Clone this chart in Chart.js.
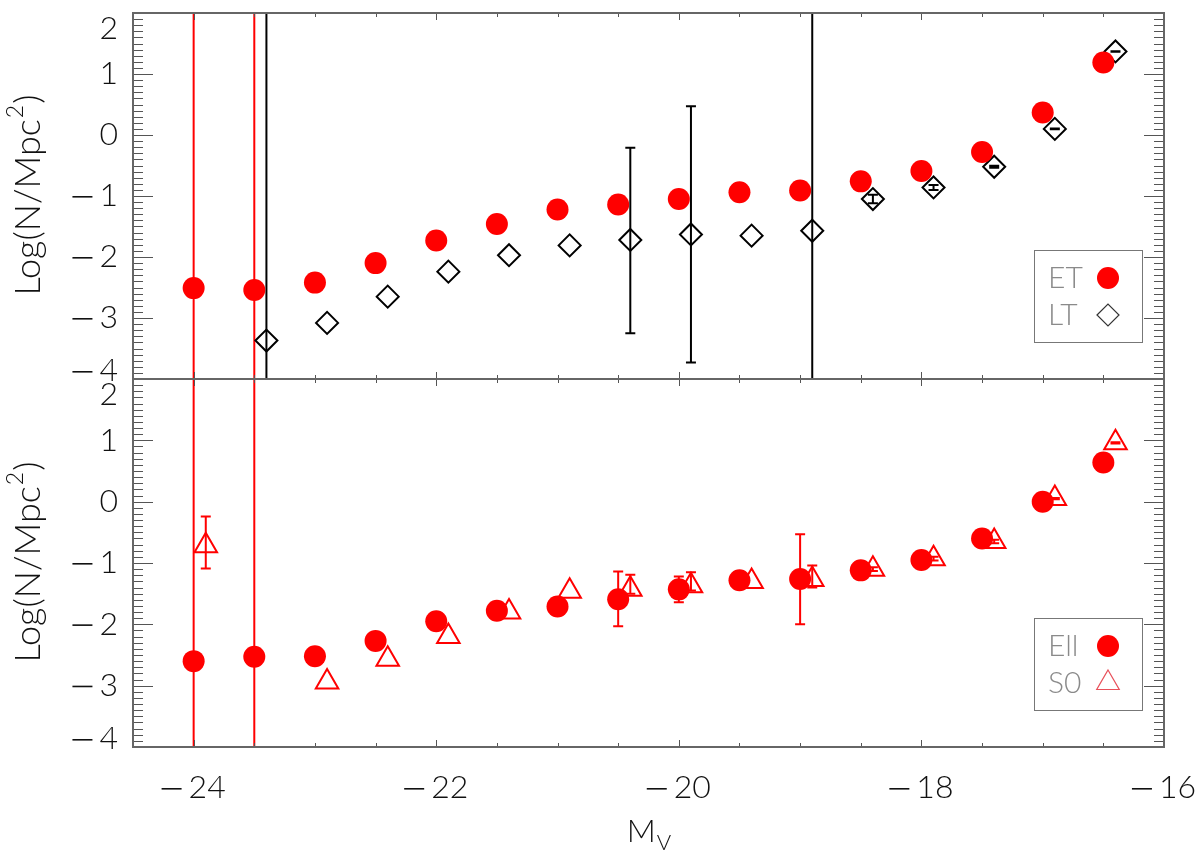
<!DOCTYPE html>
<html>
<head>
<meta charset="utf-8">
<script src="https://cdn.jsdelivr.net/npm/chart.js@4.4.0/dist/chart.umd.min.js"></script>
<style>
  body { margin: 0; background: #fff; width: 1200px; height: 858px; position: relative; overflow: hidden; }
  canvas { position: absolute; left: 0; }
  #topChart { top: 0; }
  #botChart { top: 360px; }
</style>
</head>
<body>
<canvas id="topChart" width="1200" height="400"></canvas>
<canvas id="botChart" width="1200" height="498"></canvas>
<script>
// magnitude bins
const magE = [-24, -23.5, -23, -22.5, -22, -21.5, -21, -20.5, -20, -19.5, -19, -18.5, -18, -17.5, -17, -16.5];
const magL = [-23.4, -22.9, -22.4, -21.9, -21.4, -20.9, -20.4, -19.9, -19.4, -18.9, -18.4, -17.9, -17.4, -16.9, -16.4];
const magS0 = [-23.9, -22.9, -22.4, -21.9, -21.4, -20.9, -20.4, -19.9, -19.4, -18.9, -18.4, -17.9, -17.4, -16.9, -16.4];

// top panel: ET / LT
const etVals = [-2.51, -2.54, -2.42, -2.10, -1.73, -1.46, -1.22, -1.14, -1.05, -0.94, -0.91, -0.76, -0.59, -0.28, 0.37, 1.19];
const etLo = [-9, -9, null, null, null, null, null, null, null, null, null, null, null, null, null, null];
const etHi = [9, 9, null, null, null, null, null, null, null, null, null, null, null, null, null, null];

const ltVals = [-3.37, -3.08, -2.65, -2.24, -1.97, -1.81, -1.72, -1.63, -1.65, -1.57, -1.05, -0.86, -0.52, 0.10, 1.37];
const ltLo = [-9, null, null, null, null, null, -3.25, -3.73, null, -9, -1.12, -0.90, -0.535, 0.095, 1.365];
const ltHi = [9, null, null, null, null, null, -0.21, 0.47, null, 9, -0.98, -0.82, -0.505, 0.105, 1.375];

// bottom panel: Ell / S0
const ellVals = [-2.60, -2.53, -2.52, -2.27, -1.95, -1.78, -1.71, -1.59, -1.43, -1.28, -1.26, -1.12, -0.95, -0.60, 0.00, 0.64];
const ellLo = [-9, -9, null, null, null, null, null, -2.03, -1.64, null, -2.00, null, null, null, null, null];
const ellHi = [9, 9, null, null, null, null, null, -1.14, -1.22, null, -0.53, null, null, null, null, null];

const s0Vals = [-0.72, -2.94, -2.57, -2.20, -1.80, -1.46, -1.43, -1.37, -1.30, -1.27, -1.10, -0.93, -0.65, 0.05, 0.96];
const s0Lo = [-1.09, null, null, null, null, null, -1.50, -1.45, null, -1.40, -1.13, -0.96, -0.68, 0.04, 0.95];
const s0Hi = [-0.24, null, null, null, null, null, -1.19, -1.15, null, -1.04, -1.07, -0.90, -0.62, 0.06, 0.97];

// axes
const xMin = -24.5, xMax = -16;
const yMin = -4, yMax = 2;
const xTicks = [-24, -22, -20, -18, -16];
const yTicks = [-4, -3, -2, -1, 0, 1, 2];

const FONT = '"Lato", "Open Sans", "DejaVu Sans", sans-serif';
const RED = '#ff0000';

function pts(xs, ys) {
  return xs.map((x, i) => ({ x: x, y: ys[i] }));
}

function numText(ctx, v, x, y, align) {
  // long minus drawn as a bar, set apart from the digits
  const digits = String(Math.abs(v));
  const dw = ctx.measureText(digits).width;
  const mw = v < 0 ? 27 : 0;
  let left = x;
  if (align === 'right') left = x - dw - mw;
  if (align === 'center') left = x - (dw + mw) / 2;
  ctx.textAlign = 'left';
  if (v < 0) ctx.fillRect(left, y, 20, 1.6);
  ctx.fillText(digits, left + mw, y);
}

function marker(ctx, style, x, y, r, fill, stroke, lw) {
  ctx.beginPath();
  if (style === 'circle') ctx.arc(x, y, r, 0, Math.PI * 2);
  if (style === 'rectRot') { ctx.moveTo(x - r, y); ctx.lineTo(x, y - r); ctx.lineTo(x + r, y); ctx.lineTo(x, y + r); ctx.closePath(); }
  if (style === 'triangle') {
    ctx.moveTo(x, y - r);
    ctx.lineTo(x + r * Math.sin(Math.PI * 2 / 3), y + r / 2);
    ctx.lineTo(x - r * Math.sin(Math.PI * 2 / 3), y + r / 2);
    ctx.closePath();
  }
  if (fill) { ctx.fillStyle = fill; ctx.fill(); }
  if (stroke) { ctx.strokeStyle = stroke; ctx.lineWidth = lw; ctx.stroke(); }
}

const errorBars = {
  id: 'errorBars',
  beforeDatasetsDraw(chart) {
    const ctx = chart.ctx, a = chart.chartArea;
    const xs = chart.scales.x, ys = chart.scales.y;
    ctx.save();
    ctx.beginPath();
    ctx.rect(a.left, a.top, a.right - a.left, a.bottom - a.top);
    ctx.clip();
    chart.data.datasets.forEach(ds => {
      if (!ds.errLo) return;
      ctx.strokeStyle = ds.errColor;
      ctx.lineWidth = 2;
      ds.data.forEach((p, i) => {
        if (ds.errLo[i] == null) return;
        const px = xs.getPixelForValue(p.x);
        const y1 = ys.getPixelForValue(ds.errLo[i]);
        const y2 = ys.getPixelForValue(ds.errHi[i]);
        ctx.beginPath();
        ctx.moveTo(px, y1); ctx.lineTo(px, y2);
        ctx.moveTo(px - 5, y1); ctx.lineTo(px + 5, y1);
        ctx.moveTo(px - 5, y2); ctx.lineTo(px + 5, y2);
        ctx.stroke();
      });
    });
    ctx.restore();
  }
};

const frame = {
  id: 'frame',
  afterDraw(chart, args, opts) {
    const ctx = chart.ctx, a = chart.chartArea;
    const xs = chart.scales.x, ys = chart.scales.y;
    ctx.save();

    // ticks on all four sides, pointing inward
    ctx.strokeStyle = '#555';
    ctx.lineWidth = 1;
    ctx.beginPath();
    for (let k = 0; k <= 60; k++) {
      const v = yMin + k * 0.1;
      const py = Math.round(ys.getPixelForValue(v)) + 0.5;
      const len = k % 10 === 0 ? 20 : 10;
      ctx.moveTo(a.left, py); ctx.lineTo(a.left + len, py);
      ctx.moveTo(a.right, py); ctx.lineTo(a.right - len, py);
    }
    for (let k = 0; k <= 17; k++) {
      const v = xMin + k * 0.5;
      const px = Math.round(xs.getPixelForValue(v)) + 0.5;
      const len = (v % 2 === 0) ? 7 : 4;
      ctx.moveTo(px, a.bottom); ctx.lineTo(px, a.bottom - len);
      ctx.moveTo(px, a.top); ctx.lineTo(px, a.top + len);
    }
    ctx.stroke();

    // box
    ctx.strokeStyle = '#666';
    ctx.lineWidth = 2;
    ctx.strokeRect(a.left, a.top, a.right - a.left, a.bottom - a.top);

    // y tick labels
    ctx.fillStyle = '#111';
    ctx.font = '300 32px ' + FONT;
    ctx.textBaseline = 'middle';
    yTicks.forEach(v => {
      let py = ys.getPixelForValue(v);
      if (v === yMax) py += 16;
      if (v === yMin) py -= 8;
      numText(ctx, v, a.left - 15, py, 'right');
    });

    // y title
    ctx.save();
    ctx.translate(40, (a.top + a.bottom) / 2);
    ctx.rotate(-Math.PI / 2);
    ctx.textBaseline = 'alphabetic';
    ctx.font = '300 36px ' + FONT;
    const t1 = 'Log(N/Mpc', t2 = '2', t3 = ')';
    const w1 = ctx.measureText(t1).width, w3 = ctx.measureText(t3).width;
    ctx.font = '300 23px ' + FONT;
    const w2 = ctx.measureText(t2).width;
    let tx = -(w1 + w2 + w3) / 2;
    ctx.font = '300 36px ' + FONT;
    ctx.textAlign = 'left';
    ctx.fillText(t1, tx, 0);
    ctx.font = '300 23px ' + FONT;
    ctx.fillText(t2, tx + w1 + 1, -17);
    ctx.font = '300 36px ' + FONT;
    ctx.fillText(t3, tx + w1 + w2 + 2, 0);
    ctx.restore();

    // x tick labels and title (bottom panel only)
    if (opts.xLabels) {
      ctx.textBaseline = 'middle';
      ctx.font = '300 32px ' + FONT;
      xTicks.forEach(v => numText(ctx, v, xs.getPixelForValue(v), a.bottom + 41, 'center'));
      ctx.textBaseline = 'alphabetic';
      const cx = (a.left + a.right) / 2;
      ctx.font = '300 32px ' + FONT;
      const mw = ctx.measureText('M').width;
      ctx.font = '300 22px ' + FONT;
      const vw = ctx.measureText('V').width;
      const sx = cx - (mw + vw) / 2;
      ctx.font = '300 32px ' + FONT;
      ctx.textAlign = 'left';
      ctx.fillText('M', sx, a.bottom + 95);
      ctx.font = '300 22px ' + FONT;
      ctx.fillText('V', sx + mw + 1, a.bottom + 103);
    }

    // legend box
    const bx = a.right - 130, by = a.bottom - 129, bw = 108, bh = 92;
    ctx.strokeStyle = '#777';
    ctx.lineWidth = 1;
    ctx.strokeRect(bx + 0.5, by + 0.5, bw, bh);
    ctx.font = '300 30px ' + FONT;
    ctx.textBaseline = 'middle';
    ctx.textAlign = 'left';
    opts.entries.forEach((e, i) => {
      const ly = by + 28 + i * 37;
      ctx.fillStyle = '#8a8a8a';
      ctx.fillText(e.label, bx + 14, ly);
      marker(ctx, e.style, bx + 74, ly, e.r, e.fill, e.stroke, 1.2);
    });

    ctx.restore();
  }
};

function makeChart(id, datasets, padding, frameOpts) {
  return new Chart(document.getElementById(id), {
    type: 'scatter',
    data: { datasets: datasets },
    options: {
      responsive: false,
      animation: false,
      devicePixelRatio: 1,
      layout: { padding: padding },
      plugins: {
        legend: { display: false },
        tooltip: { enabled: false },
        frame: frameOpts
      },
      scales: {
        x: { type: 'linear', min: xMin, max: xMax, display: false },
        y: { type: 'linear', min: yMin, max: yMax, display: false }
      }
    },
    plugins: [errorBars, frame]
  });
}

makeChart('topChart', [
  {
    label: 'ET', data: pts(magE, etVals), errLo: etLo, errHi: etHi, errColor: RED,
    pointStyle: 'circle', pointRadius: 11, backgroundColor: RED, borderWidth: 0
  },
  {
    label: 'LT', data: pts(magL, ltVals), errLo: ltLo, errHi: ltHi, errColor: '#000',
    pointStyle: 'rectRot', pointRadius: 11, backgroundColor: 'rgba(0,0,0,0)', borderColor: '#000', borderWidth: 2
  }
], { left: 133, right: 36, top: 10, bottom: 21 }, {
  xLabels: false,
  entries: [
    { label: 'ET', style: 'circle', r: 11, fill: RED, stroke: null },
    { label: 'LT', style: 'rectRot', r: 11, fill: null, stroke: '#333' }
  ]
});

makeChart('botChart', [
  {
    label: 'Ell', data: pts(magE, ellVals), errLo: ellLo, errHi: ellHi, errColor: RED,
    pointStyle: 'circle', pointRadius: 11, backgroundColor: RED, borderWidth: 0
  },
  {
    label: 'S0', data: pts(magS0, s0Vals), errLo: s0Lo, errHi: s0Hi, errColor: RED,
    pointStyle: 'triangle', pointRadius: 13, backgroundColor: 'rgba(0,0,0,0)', borderColor: RED, borderWidth: 2
  }
], { left: 133, right: 36, top: 19, bottom: 111 }, {
  xLabels: true,
  entries: [
    { label: 'Ell', style: 'circle', r: 11, fill: RED, stroke: null },
    { label: 'S0', style: 'triangle', r: 13, fill: null, stroke: '#e8505a' }
  ]
});
</script>
</body>
</html>
